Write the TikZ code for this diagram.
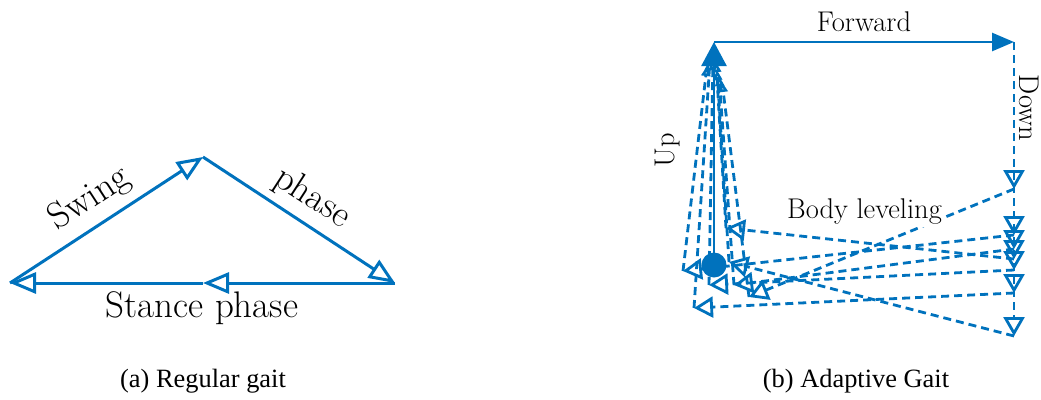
\documentclass[tikz,border=0pt]{standalone}
\usepackage{fontspec}
\newfontfamily\capfont{Liberation Serif}
\usetikzlibrary{arrows.meta}
\definecolor{mblue}{RGB}{0,114,189}
\begin{document}
\begin{tikzpicture}[x=1pt,y=-1pt,
  leg/.style={mblue, line width=3pt, -{Triangle[open,length=26pt,width=21pt]}},
  bigtxt/.style={font=\fontsize{37}{44}\selectfont, inner sep=0pt},
  midtxt/.style={font=\fontsize{28.5}{34}\selectfont, inner sep=0pt},
  captxt/.style={font=\capfont\fontsize{26.4}{31}\selectfont, inner sep=0pt},
  dsh/.style={mblue, line width=2.8pt, dash pattern=on 8pt off 5pt},
  downarr/.style={dsh, -{Triangle[open,length=19pt,width=21pt]}},
  backarr/.style={dsh, -{Triangle[open,length=19pt,width=21pt]}},
  uparr/.style={dsh, -{Triangle[open,length=10pt,width=9pt]}},
  solidarr/.style={mblue, line width=2.6pt, -{Triangle[length=24pt,width=25pt]}},
  fwdarr/.style={mblue, line width=2.6pt, -{Triangle[length=22pt,width=18pt]}}
]
\useasboundingbox (0,0) rectangle (1041,399);

% ---------- (a) Regular gait ----------
\coordinate (A) at (10,283);
\coordinate (B) at (203,157);
\coordinate (C) at (395,283);
\coordinate (M) at (203,283);
\draw[leg] (A) -- (B);
\draw[leg] (B) -- (C);
\draw[leg] (C) -- (M);
\draw[leg] (M) -- (A);
\node[bigtxt, rotate=33] (swing) at (90,199) {Swing};
\node[bigtxt, rotate=-33] (phase) at (312,198) {phase};
\node[bigtxt] (stance) at (202,308) {Stance phase};
\node[captxt] (capa) at (203,381) {(a) Regular gait};

% ---------- (b) Adaptive gait ----------
\coordinate (O) at (714,42);
\coordinate (F) at (1014,42);
\coordinate (R1) at (1014,189);
\coordinate (R2) at (1014,235);
\coordinate (R3) at (1014,249);
\coordinate (R4) at (1014,259);
\coordinate (R5) at (1014,270);
\coordinate (R6) at (1014,293);
\coordinate (R7) at (1014,336);
\coordinate (L1) at (726,228);
\coordinate (L2) at (683,271);
\coordinate (L3) at (729,262);
\coordinate (L4) at (709,285);
\coordinate (L5) at (734,285);
\coordinate (L6) at (749,297);
\coordinate (L7) at (694,308);
\coordinate (T1) at (716,62);
\coordinate (T2) at (707,66);
\coordinate (T3) at (717,70);
\coordinate (T4) at (713,56);
\coordinate (T5) at (719,76);
\coordinate (T6) at (722,82);
\coordinate (T7) at (710,60);

\node[circle, fill=mblue, minimum size=25pt, inner sep=0pt] (body) at (714,265) {};

% up (lift) dashed
\foreach \i in {1,...,7} { \draw[uparr] (L\i) -- (T\i); }
% down dashed
\foreach \i in {1,...,7} { \draw[downarr] (F) -- (R\i); }
% back (stance) dashed
\draw[backarr] (R1) -- (L6);
\draw[backarr] (R2) -- (L2);
\draw[backarr] (R3) -- (L5);
\draw[backarr] (R4) -- (L1);
\draw[backarr] (R5) -- (L4);
\draw[backarr] (R6) -- (L7);
\draw[backarr] (R7) -- (L3);

\draw[solidarr] (body.center) -- (O);
\draw[fwdarr] (O) -- (F);

\node[midtxt] (fwd) at (864,22) {Forward};
\node[midtxt, rotate=90] (up) at (668,150) {Up};
\node[midtxt, rotate=-90] (down) at (1029,108) {Down};
\node[midtxt, fill=white, inner sep=2pt] (level) at (864.5,212) {Body leveling};
\node[captxt] (capb) at (856,381) {(b) Adaptive Gait};
\end{tikzpicture}
\end{document}
